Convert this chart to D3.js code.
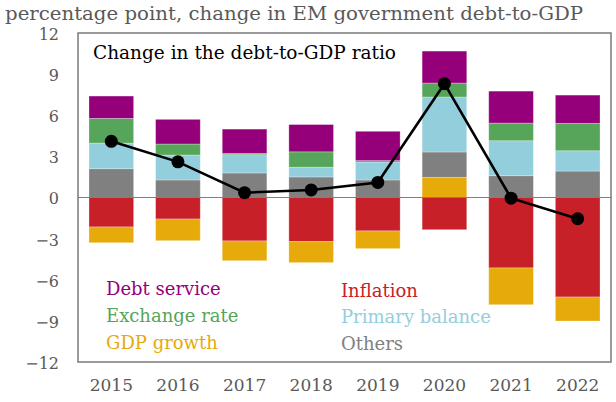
<!DOCTYPE html>
<html>
<head>
<meta charset="utf-8">
<script src="https://cdn.jsdelivr.net/npm/d3@7/dist/d3.min.js"></script>
<style>
  html, body { margin: 0; padding: 0; background: #fff; }
  svg { display: block; }
  text { font-family: "DejaVu Serif", "Liberation Serif", serif; }
</style>
</head>
<body>
<svg id="chart" width="616" height="402"></svg>
<script>
// Years on the x axis
const years = ["2015", "2016", "2017", "2018", "2019", "2020", "2021", "2022"];

// Contributions to the change in debt-to-GDP, percentage points
const inflation      = [-2.15, -1.57, -3.17, -3.22, -2.44, -2.35, -5.14, -7.26];
const gdpGrowth      = [-1.15, -1.58, -1.44, -1.53, -1.29,  1.47, -2.68, -1.75];
const others         = [ 2.10,  1.28,  1.79,  1.50,  1.28,  1.85,  1.59,  1.93];
const primaryBalance = [ 1.87,  1.82,  1.33,  0.71,  1.31,  4.01,  2.55,  1.48];
const exchangeRate   = [ 1.80,  0.80,  0.10,  1.12,  0.10,  1.02,  1.29,  2.00];
const debtService    = [ 1.63,  1.80,  1.77,  1.99,  2.14,  2.33,  2.33,  2.06];

// Overall change in the debt-to-GDP ratio (line)
const totalChange = [4.1, 2.6, 0.35, 0.55, 1.1, 8.3, -0.05, -1.55];

// Y axis ticks
const yTicks = [-12, -9, -6, -3, 0, 3, 6, 9, 12];

const seriesKeys = ["Inflation", "GDP growth", "Others", "Primary balance", "Exchange rate", "Debt service"];
const seriesValues = [inflation, gdpGrowth, others, primaryBalance, exchangeRate, debtService];
const colors = {
  "Debt service": "#95007A",
  "Exchange rate": "#56A55A",
  "GDP growth": "#E6AA0B",
  "Inflation": "#C72029",
  "Primary balance": "#93CEDD",
  "Others": "#808080"
};

const table = years.map((y, i) => {
  const row = { year: y };
  seriesKeys.forEach((k, j) => { row[k] = seriesValues[j][i]; });
  return row;
});

const svg = d3.select("#chart");
const x0 = 78, x1 = 611, yTop = 33, yBot = 362;

const x = d3.scaleBand().domain(years).range([x0, x1]).paddingInner(0.33).paddingOuter(0.165);
const y = d3.scaleLinear().domain([-12, 12]).range([yBot, yTop]);

const stack = d3.stack().keys(seriesKeys).offset(d3.stackOffsetDiverging);
const layers = stack(table);

// Unit label
svg.append("text")
  .attr("x", 5).attr("y", 20)
  .attr("fill", "#595959")
  .attr("font-size", 18)
  .attr("textLength", 578).attr("lengthAdjust", "spacingAndGlyphs")
  .text("percentage point, change in EM government debt-to-GDP");

// Stacked bars
svg.append("g").selectAll("g")
  .data(layers)
  .join("g")
  .attr("fill", d => colors[d.key])
  .selectAll("rect")
  .data(d => d)
  .join("rect")
  .attr("x", d => x(d.data.year))
  .attr("width", x.bandwidth())
  .attr("y", d => y(Math.max(d[0], d[1])))
  .attr("height", d => Math.abs(y(d[0]) - y(d[1])))
  .attr("stroke", "rgba(255,255,255,0.35)")
  .attr("stroke-width", 0.8);

// Zero line
svg.append("line")
  .attr("x1", x0).attr("x2", x1)
  .attr("y1", y(0)).attr("y2", y(0))
  .attr("stroke", "#7f7f7f").attr("stroke-width", 1.2);

// Frame
svg.append("rect")
  .attr("x", x0).attr("y", yTop)
  .attr("width", x1 - x0).attr("height", yBot - yTop)
  .attr("fill", "none").attr("stroke", "#7a7a7a").attr("stroke-width", 1.5);

// Y axis labels
const yAxis = d3.axisLeft(y).tickValues(yTicks).tickSize(0).tickPadding(0);
const yg = svg.append("g").attr("transform", `translate(${59},0)`).call(yAxis);
yg.select(".domain").remove();
yg.selectAll("text")
  .attr("font-family", "DejaVu Serif, serif")
  .attr("font-size", 16)
  .attr("dy", "0.4em")
  .attr("fill", "#595959");

// X axis labels
const xAxis = d3.axisBottom(x).tickSize(0).tickPadding(0);
const xg = svg.append("g").attr("transform", `translate(0,${379})`).call(xAxis);
xg.select(".domain").remove();
xg.selectAll("text")
  .attr("font-family", "DejaVu Serif, serif")
  .attr("font-size", 17)
  .attr("fill", "#595959");

// Total change line with markers
const cx = d => x(d.year) + x.bandwidth() / 2;
const linePts = years.map((yr, i) => ({ year: yr, v: totalChange[i] }));
svg.append("path")
  .datum(linePts)
  .attr("fill", "none")
  .attr("stroke", "#000")
  .attr("stroke-width", 2.6)
  .attr("d", d3.line().x(cx).y(d => y(d.v)));
svg.append("g").selectAll("circle")
  .data(linePts)
  .join("circle")
  .attr("cx", cx)
  .attr("cy", d => y(d.v))
  .attr("r", 6.5)
  .attr("fill", "#000");

// Chart title inside the frame
svg.append("text")
  .attr("x", 93).attr("y", 59)
  .attr("font-size", 19)
  .attr("fill", "#000")
  .attr("textLength", 303).attr("lengthAdjust", "spacingAndGlyphs")
  .text("Change in the debt-to-GDP ratio");

// Legend
const legend = [
  { key: "Debt service", x: 106, y: 295 },
  { key: "Exchange rate", x: 106, y: 322 },
  { key: "GDP growth", x: 106, y: 349 },
  { key: "Inflation", x: 341, y: 297 },
  { key: "Primary balance", x: 341, y: 323 },
  { key: "Others", x: 341, y: 350 }
];
svg.append("g").selectAll("text")
  .data(legend)
  .join("text")
  .attr("x", d => d.x).attr("y", d => d.y)
  .attr("font-size", 18)
  .attr("fill", d => colors[d.key])
  .text(d => d.key);
</script>
</body>
</html>
